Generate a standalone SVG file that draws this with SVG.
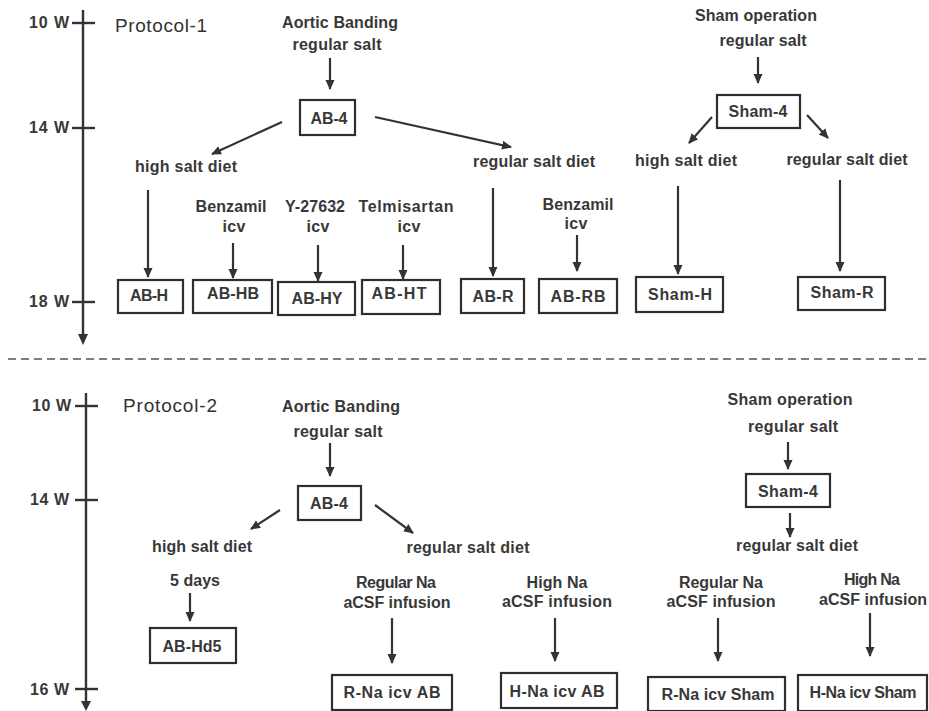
<svg xmlns="http://www.w3.org/2000/svg" width="929" height="711" viewBox="0 0 929 711">
<style>
text{font-family:"Liberation Sans",Arial,sans-serif;font-weight:bold;font-size:16px;fill:#383838;text-anchor:middle}
.tl{text-anchor:end;font-size:16px}
.pr{text-anchor:start;font-weight:normal;font-size:19px;fill:#333}
.box{fill:#fff;stroke:#2e2e2e;stroke-width:2.2}
.c{stroke:#333;stroke-width:2.2;fill:none;marker-end:url(#ah)}
.ax{stroke:#333;stroke-width:2.4;fill:none}
</style>
<defs>
<marker id="ah" viewBox="0 0 10 10" refX="9" refY="5" markerWidth="10" markerHeight="10" markerUnits="userSpaceOnUse" orient="auto"><path d="M0,0.5 L10,5 L0,9.5 z" fill="#333"/></marker>
</defs>
<rect width="929" height="711" fill="#fff"/>

<g id="timelines">
<line class="ax" x1="83" y1="10" x2="83" y2="336"/>
<path d="M78,334 L83,345 L88,334 z" fill="#333"/>
<line class="ax" x1="72" y1="23" x2="95" y2="23"/>
<line class="ax" x1="72" y1="128" x2="95" y2="128"/>
<line class="ax" x1="72" y1="302" x2="95" y2="302"/>
<text class="tl" x="69" y="28" textLength="40">10 W</text>
<text class="tl" x="69" y="133" textLength="40">14 W</text>
<text class="tl" x="69" y="307" textLength="40">18 W</text>
<line class="ax" x1="86" y1="393" x2="86" y2="703"/>
<path d="M81,701 L86,711 L91,701 z" fill="#333"/>
<line class="ax" x1="75" y1="406" x2="98" y2="406"/>
<line class="ax" x1="75" y1="500" x2="98" y2="500"/>
<line class="ax" x1="75" y1="689" x2="98" y2="689"/>
<text class="tl" x="71" y="411" textLength="39">10 W</text>
<text class="tl" x="69" y="505" textLength="39">14 W</text>
<text class="tl" x="69" y="695" textLength="39">16 W</text>
</g>

<line x1="8" y1="359" x2="929" y2="359" stroke="#555" stroke-width="1.5" stroke-dasharray="8,5"/>

<g id="labels">
<text class="pr" x="115" y="32" textLength="92">Protocol-1</text>
<text x="340" y="28" textLength="116">Aortic Banding</text>
<text x="337" y="50" textLength="89">regular salt</text>
<text x="186" y="172" textLength="102">high salt diet</text>
<text x="534" y="167" textLength="122">regular salt diet</text>
<text x="756" y="21" textLength="122">Sham operation</text>
<text x="763" y="46" textLength="87">regular salt</text>
<text x="686" y="166" textLength="102">high salt diet</text>
<text x="847" y="165" textLength="121">regular salt diet</text>
<text x="231" y="212" textLength="71">Benzamil</text>
<text x="234" y="232" textLength="23">icv</text>
<text x="315" y="212" textLength="60">Y-27632</text>
<text x="318" y="232" textLength="23">icv</text>
<text x="406" y="212" textLength="95">Telmisartan</text>
<text x="409" y="232" textLength="23">icv</text>
<text x="578" y="210" textLength="71">Benzamil</text>
<text x="576" y="229" textLength="23">icv</text>

<text class="pr" x="123" y="412" textLength="94">Protocol-2</text>
<text x="341" y="412" textLength="118">Aortic Banding</text>
<text x="338" y="437" textLength="89">regular salt</text>
<text x="790" y="405" textLength="125">Sham operation</text>
<text x="793" y="432" textLength="90">regular salt</text>
<text x="202" y="552" textLength="100">high salt diet</text>
<text x="195" y="586" textLength="50">5 days</text>
<text x="468" y="553" textLength="123">regular salt diet</text>
<text x="797" y="551" textLength="122">regular salt diet</text>
<text x="396" y="588" textLength="80">Regular Na</text>
<text x="397" y="608" textLength="107">aCSF infusion</text>
<text x="557" y="588" textLength="61">High Na</text>
<text x="557" y="607" textLength="110">aCSF infusion</text>
<text x="721" y="588" textLength="84">Regular Na</text>
<text x="721" y="607" textLength="109">aCSF infusion</text>
<text x="872" y="585" textLength="56">High Na</text>
<text x="873" y="605" textLength="108">aCSF infusion</text>
</g>

<g id="connectors">
<line class="c" x1="330" y1="58" x2="330" y2="89"/>
<line class="c" x1="282" y1="122" x2="212" y2="154"/>
<line class="c" x1="375" y1="117" x2="511" y2="147"/>
<line class="c" x1="758" y1="57" x2="758" y2="83"/>
<line class="c" x1="712" y1="117" x2="689" y2="143"/>
<line class="c" x1="807" y1="115" x2="828" y2="138"/>
<line class="c" x1="148" y1="190" x2="148" y2="277"/>
<line class="c" x1="233" y1="243" x2="233" y2="278"/>
<line class="c" x1="318" y1="245" x2="318" y2="281"/>
<line class="c" x1="403" y1="245" x2="403" y2="279"/>
<line class="c" x1="493" y1="188" x2="493" y2="276"/>
<line class="c" x1="577" y1="235" x2="577" y2="271"/>
<line class="c" x1="678" y1="186" x2="678" y2="274"/>
<line class="c" x1="840" y1="180" x2="840" y2="271"/>

<line class="c" x1="330" y1="443" x2="330" y2="476"/>
<line class="c" x1="280" y1="510" x2="251" y2="529"/>
<line class="c" x1="375" y1="505" x2="413" y2="533"/>
<line class="c" x1="788" y1="442" x2="788" y2="469"/>
<line class="c" x1="790" y1="513" x2="790" y2="537"/>
<line class="c" x1="190" y1="593" x2="190" y2="621"/>
<line class="c" x1="392" y1="618" x2="392" y2="663"/>
<line class="c" x1="555" y1="618" x2="555" y2="661"/>
<line class="c" x1="718" y1="618" x2="718" y2="661"/>
<line class="c" x1="870" y1="613" x2="870" y2="656"/>
</g>

<g id="AB-4-p1"><rect class="box" x="300" y="100" width="55" height="35"/><text x="329" y="124" textLength="37">AB-4</text></g>
<g id="Sham-4-p1"><rect class="box" x="717" y="95" width="83" height="33"/><text x="758" y="117" textLength="59">Sham-4</text></g>
<g id="AB-H"><rect class="box" x="118" y="280" width="65" height="33"/><text x="149" y="301" textLength="38">AB-H</text></g>
<g id="AB-HB"><rect class="box" x="193" y="280" width="79" height="33"/><text x="233" y="299" textLength="52">AB-HB</text></g>
<g id="AB-HY"><rect class="box" x="278" y="282" width="77" height="33"/><text x="317" y="304" textLength="51">AB-HY</text></g>
<g id="AB-HT"><rect class="box" x="362" y="280" width="78" height="34"/><text x="399" y="299" textLength="55">AB-HT</text></g>
<g id="AB-R"><rect class="box" x="461" y="279" width="63" height="34"/><text x="493" y="302" textLength="41">AB-R</text></g>
<g id="AB-RB"><rect class="box" x="539" y="279" width="78" height="34"/><text x="578" y="302" textLength="55">AB-RB</text></g>
<g id="Sham-H"><rect class="box" x="636" y="277" width="87" height="35"/><text x="680" y="300" textLength="64">Sham-H</text></g>
<g id="Sham-R"><rect class="box" x="798" y="277" width="87" height="33"/><text x="842" y="298" textLength="63">Sham-R</text></g>

<g id="AB-4-p2"><rect class="box" x="298" y="486" width="63" height="34"/><text x="329" y="509" textLength="38">AB-4</text></g>
<g id="Sham-4-p2"><rect class="box" x="746" y="474" width="84" height="33"/><text x="788" y="497" textLength="60">Sham-4</text></g>
<g id="AB-Hd5"><rect class="box" x="150" y="628" width="86" height="35"/><text x="192" y="652" textLength="59">AB-Hd5</text></g>
<g id="R-Na-icv-AB"><rect class="box" x="332" y="675" width="120" height="35"/><text x="392" y="698" textLength="97">R-Na icv AB</text></g>
<g id="H-Na-icv-AB"><rect class="box" x="501" y="673" width="116" height="35"/><text x="557" y="697" textLength="95">H-Na icv AB</text></g>
<g id="R-Na-icv-Sham"><rect class="box" x="648" y="677" width="137" height="34"/><text x="718" y="700" textLength="113">R-Na icv Sham</text></g>
<g id="H-Na-icv-Sham"><rect class="box" x="798" y="675" width="129" height="36"/><text x="863" y="698" textLength="107">H-Na icv Sham</text></g>
</svg>
